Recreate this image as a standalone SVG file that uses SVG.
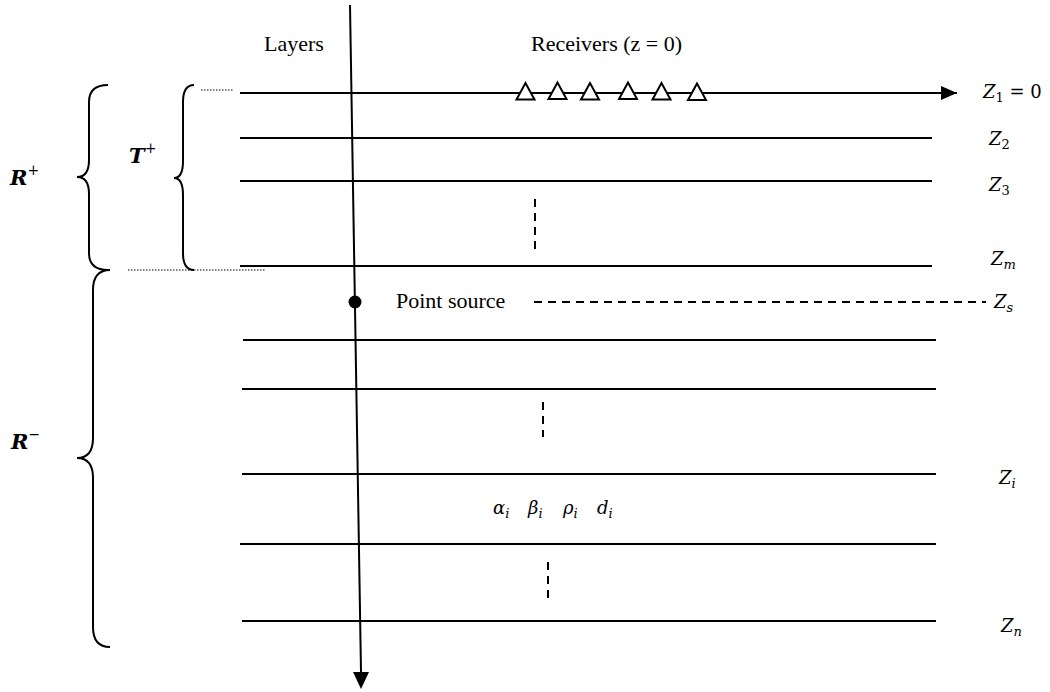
<svg xmlns="http://www.w3.org/2000/svg" width="1050" height="692" viewBox="0 0 1050 692">
<style>
.ln{stroke:#000;stroke-width:2;fill:none}
.dash{stroke:#000;stroke-width:2;stroke-dasharray:8,6;fill:none}
.dot{stroke:#000;stroke-width:1.2;stroke-dasharray:1.5,1.5;fill:none}
.br{stroke:#000;stroke-width:2;fill:none}
.tri{fill:#fff;stroke:#000;stroke-width:2}
</style>
<defs>
<marker id="ah2" markerWidth="16" markerHeight="14" refX="16" refY="7" orient="auto" markerUnits="userSpaceOnUse" viewBox="0 0 16 14">
<path d="M0,0 L16,7 L0,14 z" fill="#000"/>
</marker>
</defs>
<g id="connectors">
<line id="z1" class="ln" x1="240" y1="93" x2="957" y2="93" marker-end="url(#ah2)"/>
<line id="z2" class="ln" x1="240" y1="138" x2="932" y2="138"/>
<line id="z3" class="ln" x1="240" y1="181" x2="932" y2="181"/>
<line id="zm" class="ln" x1="240" y1="266" x2="932" y2="266"/>
<line class="ln" x1="243" y1="340" x2="936" y2="340"/>
<line class="ln" x1="242" y1="389" x2="936" y2="389"/>
<line id="zi" class="ln" x1="242" y1="474" x2="936" y2="474"/>
<line class="ln" x1="240" y1="544" x2="936" y2="544"/>
<line id="zn" class="ln" x1="242" y1="621" x2="936" y2="621"/>
<line id="depth-axis" class="ln" x1="350" y1="5" x2="361" y2="672"/>
<path d="M353,672 L369,672 L361,689 z" fill="#000"/>
<line class="dash" x1="534" y1="302" x2="986" y2="302"/>
<line class="dash" x1="535" y1="199" x2="535" y2="249"/>
<line class="dash" x1="543" y1="402" x2="543" y2="437"/>
<line class="dash" x1="548" y1="562" x2="548" y2="598"/>
<line class="dot" x1="201" y1="90" x2="233" y2="90"/>
<line class="dot" x1="128" y1="270" x2="266" y2="270"/>
</g>
<g id="receivers">
<polygon class="tri" points="525.5,83 516.5,99.5 534.5,99.5"/>
<polygon class="tri" points="557.5,82.5 548.5,99 566.5,99"/>
<polygon class="tri" points="590,83 581,99.5 599,99.5"/>
<polygon class="tri" points="628,82.5 619,99 637,99"/>
<polygon class="tri" points="661.5,83 652.5,99.5 670.5,99.5"/>
<polygon class="tri" points="697,83.5 688,100 706,100"/>
</g>
<g id="point-source">
<circle cx="355" cy="302" r="6.5" fill="#000"/>
<text x="396" y="308" font-family="Liberation Serif, serif" font-size="22" fill="#000">Point source</text>
</g>
<g id="brace-rplus">
<path class="br" d="M108,85 Q89,85 89,102 L89,160 Q89,177 77,177 Q89,177 89,194 L89,253 Q89,270 108,270"/>
<text x="10" y="185" font-family="DejaVu Serif, Liberation Serif, serif" font-style="italic" font-weight="bold" font-size="21" fill="#000">R<tspan font-size="14" font-weight="normal" dy="-10">+</tspan></text>
</g>
<g id="brace-tplus">
<path class="br" d="M194,85 Q183,85 183,102 L183,161 Q183,178 174,178 Q183,178 183,195 L183,253 Q183,270 194,270"/>
<text x="129" y="163" font-family="DejaVu Serif, Liberation Serif, serif" font-style="italic" font-weight="bold" font-size="21" fill="#000">T<tspan font-size="14" font-weight="normal" dy="-10">+</tspan></text>
</g>
<g id="brace-rminus">
<path class="br" d="M110,270 Q93,270 93,290 L93,438 Q93,458 77,458 Q93,458 93,478 L93,627 Q93,647 110,647"/>
<text x="11" y="449" font-family="DejaVu Serif, Liberation Serif, serif" font-style="italic" font-weight="bold" font-size="21" fill="#000">R<tspan font-size="14" font-weight="normal" dy="-10">−</tspan></text>
</g>
<g id="labels" font-family="DejaVu Serif, Liberation Serif, serif" font-size="18" fill="#000">
<text x="264" y="51" font-family="Liberation Serif, serif" font-size="22">Layers</text>
<text x="531" y="51" font-family="Liberation Serif, serif" font-size="22">Receivers (z = 0)</text>
<text x="983" y="98" font-style="italic">Z<tspan font-size="13" font-style="normal" dy="4">1</tspan><tspan dy="-4" font-style="normal"> = 0</tspan></text>
<text x="989" y="145" font-style="italic">Z<tspan font-size="13" font-style="normal" dy="4">2</tspan></text>
<text x="989" y="191" font-style="italic">Z<tspan font-size="13" font-style="normal" dy="4">3</tspan></text>
<text x="991" y="265" font-style="italic">Z<tspan font-size="13" dy="4">m</tspan></text>
<text x="994" y="308" font-style="italic">Z<tspan font-size="13" dy="4">s</tspan></text>
<text x="999" y="484" font-style="italic">Z<tspan font-size="13" dy="4">i</tspan></text>
<text x="1001" y="632" font-style="italic">Z<tspan font-size="13" dy="4">n</tspan></text>
<text x="493" y="514" font-style="italic">α<tspan font-size="13" dy="4">i</tspan></text>
<text x="528" y="514" font-style="italic">β<tspan font-size="13" dy="4">i</tspan></text>
<text x="563" y="514" font-style="italic">ρ<tspan font-size="13" dy="4">i</tspan></text>
<text x="597" y="514" font-style="italic">d<tspan font-size="13" dy="4">i</tspan></text>
</g>
</svg>
